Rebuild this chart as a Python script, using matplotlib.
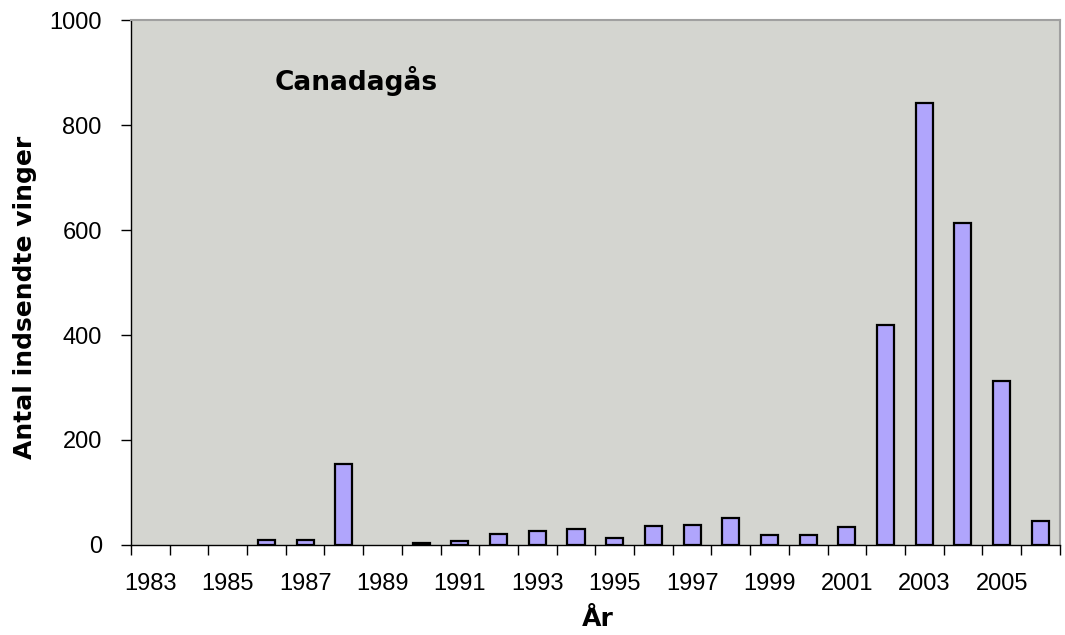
import matplotlib
matplotlib.use("Agg")
import matplotlib.pyplot as plt
import numpy as np

# data
years = list(range(1983, 2007))
wings = [0, 0, 0, 9, 9, 155, 0, 3, 8, 21, 26, 30,
         13, 35, 38, 52, 18, 18, 34, 420, 842, 613, 313, 46]
tick_years = [str(y) if (y - 1983) % 2 == 0 else "" for y in years]

plt.rcParams['font.family'] = ['Liberation Sans', 'DejaVu Sans']
bold_font = ['DejaVu Sans']   # wider bold face, closer to the spaced-out Excel text

fig = plt.figure(figsize=(10.65, 6.35), dpi=100)
ax = fig.add_axes([0.123, 0.142, 0.872, 0.826])
ax.set_facecolor('#d4d5d0')

x = np.arange(len(years))
w = np.array(wings)
nz = w > 0   # Excel draws nothing for zero years
ax.bar(x[nz], w[nz], width=0.44, color='#b0a5fc', edgecolor='black', linewidth=1.6, zorder=3)

ax.set_xlim(-0.5, len(years) - 0.5)
ax.set_ylim(0, 1000)
ax.set_yticks([0, 200, 400, 600, 800, 1000])

# labels centred on categories, tick marks at category boundaries
ax.set_xticks(x)
ax.set_xticklabels(tick_years, fontsize=17)
ax.tick_params(axis='x', which='major', length=0, pad=20)
ax.set_xticks(np.arange(-0.5, len(years), 1), minor=True)
ax.tick_params(axis='x', which='minor', length=7, width=1, direction='out')
ax.tick_params(axis='y', length=7, width=1, labelsize=17, pad=14)

for side in ['top', 'right']:
    ax.spines[side].set_color('#a0a0a0')
    ax.spines[side].set_linewidth(1.5)
ax.spines['left'].set_linewidth(1)
ax.spines['bottom'].set_linewidth(1)

ax.set_ylabel("Antal indsendte vinger", fontsize=18, fontweight='bold', family=bold_font)
ax.yaxis.set_label_coords(-0.101, 0.472)
ax.set_xlabel("År", fontsize=18, fontweight='bold', family=bold_font)
ax.xaxis.set_label_coords(0.503, -0.118)

ax.text(0.155, 0.885, "Canadagås", transform=ax.transAxes, fontsize=19,
        fontweight='bold', family=bold_font, ha='left', va='center')

fig.savefig("out.png", dpi=100)
